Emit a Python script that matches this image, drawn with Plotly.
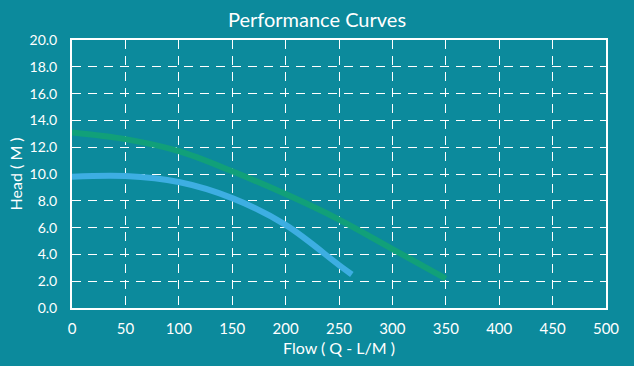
import plotly.graph_objects as go

flow_green = [0, 50, 100, 150, 200, 250, 300, 350]
head_green = [13.1, 12.6, 11.7, 10.2, 8.5, 6.6, 4.4, 2.2]

flow_blue = [0, 50, 100, 150, 200, 250, 262]
head_blue = [9.8, 9.85, 9.4, 8.2, 6.2, 3.2, 2.5]

x_ticks = [0, 50, 100, 150, 200, 250, 300, 350, 400, 450, 500]
y_ticks = [0, 2, 4, 6, 8, 10, 12, 14, 16, 18, 20]
y_labels = ["%.1f" % v for v in y_ticks]

BG = "#0C8A9C"
FONT = "Lato, Open Sans, sans-serif"

fig = go.Figure()
fig.add_trace(go.Scatter(x=flow_green, y=head_green, mode="lines",
                         line=dict(color="#11A079", width=6, shape="spline", smoothing=1.0),
                         showlegend=False, hoverinfo="skip"))
fig.add_trace(go.Scatter(x=flow_blue, y=head_blue, mode="lines",
                         line=dict(color="#3DAEE2", width=6, shape="spline", smoothing=1.0),
                         showlegend=False, hoverinfo="skip"))

fig.update_layout(
    width=634, height=366,
    paper_bgcolor=BG, plot_bgcolor=BG,
    margin=dict(l=72, r=28, t=40, b=58),
    title=dict(text="Performance Curves", x=0.5, xanchor="center", y=0.945, yanchor="middle",
               font=dict(family=FONT, size=20, color="white")),
    font=dict(family=FONT, color="white", size=15),
    annotations=[dict(text="Head ( M )", xref="paper", yref="paper", x=-0.106, y=0.5,
                      xanchor="center", yanchor="middle", textangle=-90, showarrow=False,
                      font=dict(family=FONT, size=16, color="white"))],
)
fig.update_xaxes(range=[0, 500], tickvals=x_ticks, ticktext=[str(v) for v in x_ticks],
                 showgrid=True, gridcolor="white", griddash="9px,7px", gridwidth=1,
                 showline=True, linecolor="white", linewidth=2, mirror=True,
                 zeroline=False, ticks="", ticklen=0, ticklabelstandoff=6, automargin=False,
                 title=dict(text="Flow ( Q - L/M )", font=dict(size=16, color="white"), standoff=7),
                 tickfont=dict(size=15, color="white"))
fig.update_yaxes(range=[0, 20], tickvals=y_ticks, ticktext=y_labels,
                 showgrid=True, gridcolor="white", griddash="9px,7px", gridwidth=1,
                 showline=True, linecolor="white", linewidth=2, mirror=True,
                 zeroline=False, ticks="", ticklen=0, ticklabelstandoff=10, automargin=False,
                 tickfont=dict(size=14, color="white"))

fig.write_html("out.html", config={"displayModeBar": False},
               post_script="document.body.style.margin='0';document.body.style.overflow='hidden';")
